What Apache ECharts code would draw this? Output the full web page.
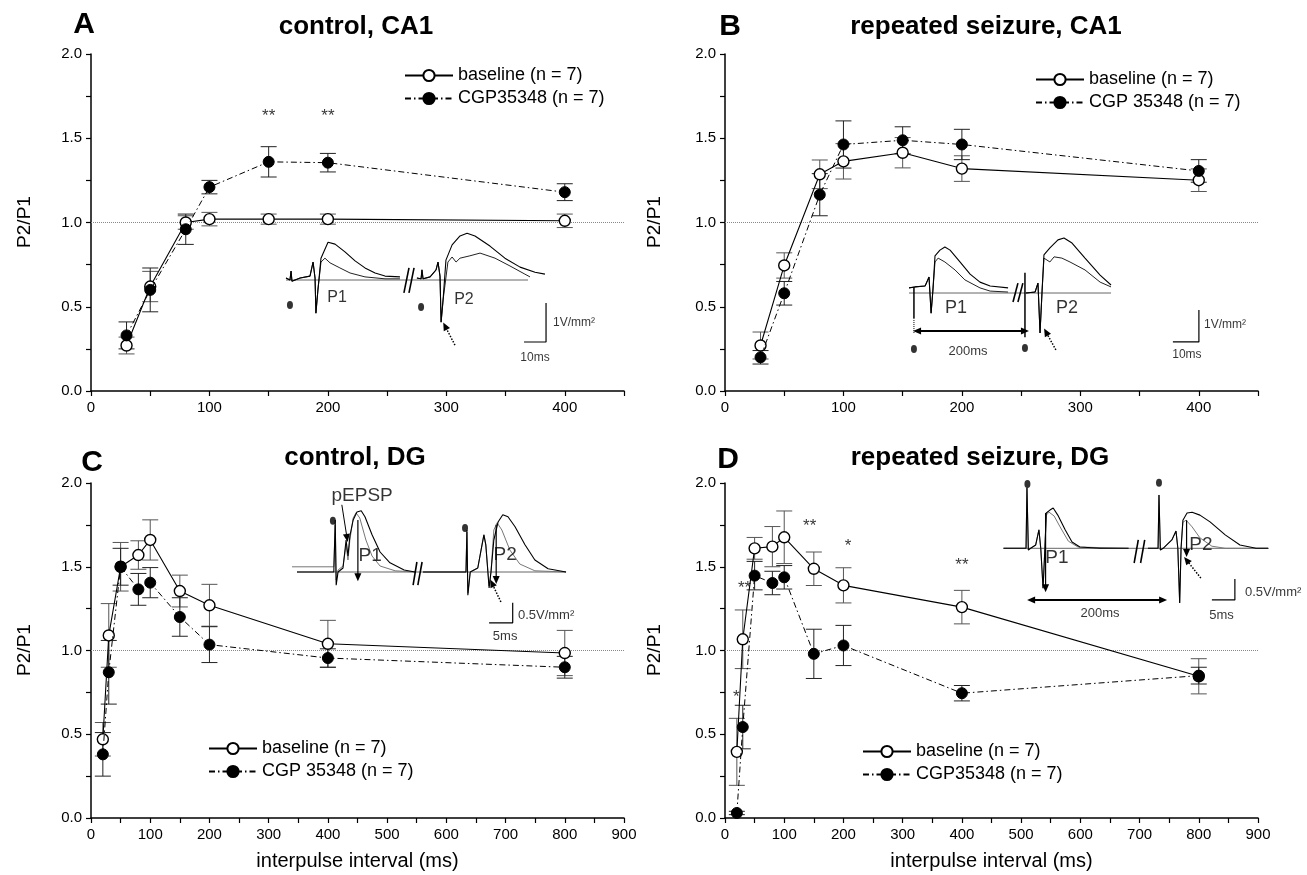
<!DOCTYPE html>
<html><head><meta charset="utf-8">
<script src="https://cdn.jsdelivr.net/npm/echarts@6/dist/echarts.min.js"></script>
<style>html,body{margin:0;padding:0;background:#fff}#c{width:1307px;height:875px}</style>
</head><body><div id="c"></div>
<script>
// ================= DATA =================
const xCA1 = [30, 50, 80, 100, 150, 200, 400];
const xDG = [20, 30, 50, 80, 100, 150, 200, 400, 800];

const baseA = [0.27, 0.62, 1.00, 1.02, 1.02, 1.02, 1.01];
const baseAErr = [0.05, 0.09, 0.04, 0.04, 0.03, 0.03, 0.04];
const cgpA = [0.33, 0.60, 0.96, 1.21, 1.36, 1.355, 1.18];
const cgpAErr = [0.08, 0.13, 0.09, 0.04, 0.09, 0.055, 0.05];

const baseB = [0.27, 0.745, 1.286, 1.363, 1.414, 1.32, 1.251];
const baseBErr = [0.08, 0.075, 0.085, 0.105, 0.09, 0.076, 0.067];
const cgpB = [0.20, 0.58, 1.165, 1.463, 1.488, 1.463, 1.306];
const cgpBErr = [0.04, 0.07, 0.125, 0.14, 0.08, 0.09, 0.067];

const baseC = [0.47, 1.09, 1.50, 1.57, 1.66, 1.355, 1.27, 1.04, 0.985];
const baseCErr = [0.10, 0.19, 0.145, 0.085, 0.12, 0.095, 0.125, 0.14, 0.135];
const cgpC = [0.38, 0.87, 1.50, 1.365, 1.405, 1.20, 1.035, 0.955, 0.90];
const cgpCErr = [0.13, 0.19, 0.11, 0.095, 0.09, 0.115, 0.107, 0.055, 0.065];

const baseD = [0.395, 1.067, 1.61, 1.62, 1.676, 1.488, 1.389, 1.259, 0.846];
const baseDErr = [0.20, 0.175, 0.065, 0.12, 0.157, 0.10, 0.105, 0.10, 0.105];
const cgpD = [0.03, 0.543, 1.447, 1.403, 1.437, 0.98, 1.03, 0.745, 0.85];
const cgpDErr = [0.01, 0.13, 0.085, 0.07, 0.07, 0.147, 0.12, 0.046, 0.05];

const starsA = [[150, 1.63, '**'], [200, 1.63, '**']];
const starsD = [[19, 0.72, '*'], [33, 1.37, '**'], [143, 1.74, '**'], [208, 1.62, '*'], [400, 1.51, '**']];

const refLevel = 1.0;
const refLineEnd = [462, 461, 930, 938];

const panelTitles = ['control, CA1', 'repeated seizure, CA1', 'control, DG', 'repeated seizure, DG'];
const panelLetters = ['A', 'B', 'C', 'D'];
const baseName = 'baseline (n = 7)';
const cgpNames = ['CGP35348 (n = 7)', 'CGP 35348 (n = 7)', 'CGP 35348 (n = 7)', 'CGP35348 (n = 7)'];

// ---- inset example traces: time (ms) vs amplitude (V/mm2) ----
const insA_p1Large = [[0,0.05],[1.8,0],[2.3,0.23],[2.7,-0.03],[6.4,0.05],[10.9,0.1],[12.3,0.46],[13.2,0.05],[13.6,-0.85],[14.5,-0.26],[15.9,0.56],[19.1,0.97],[22.3,0.92],[26.8,0.72],[31.4,0.49],[35.9,0.31],[40.5,0.18],[45,0.1],[51.8,0.08]];
const insA_p1Small = [[0,0.05],[1.8,0],[2.3,0.23],[2.7,-0.03],[6.4,0.05],[10.9,0.1],[12.3,0.46],[13.2,0.05],[13.6,-0.85],[14.5,-0.26],[15.9,0.46],[17.7,0.56],[20,0.44],[24.5,0.31],[29.1,0.18],[35.9,0.08],[45,0.03],[51.8,0.03]];
const insA_p2Large = [[59.5,0.05],[61.4,0.03],[61.8,0.26],[62.3,0.03],[65.5,0.08],[68.2,0.26],[69.1,0.46],[70,0.1],[70.5,-1.08],[71.4,-0.51],[72.7,0.51],[75.5,0.9],[79.1,1.13],[82.3,1.2],[85.9,1.13],[92.7,0.87],[99.5,0.56],[106.4,0.33],[113.2,0.2],[117.7,0.15]];
const insA_p2Small = [[59.5,0.05],[61.4,0.03],[61.8,0.26],[62.3,0.03],[65.5,0.08],[68.2,0.26],[69.1,0.46],[70,0.1],[70.5,-1.08],[71.4,-0.51],[73.6,0.46],[75.5,0.59],[77.3,0.46],[79.1,0.56],[83.6,0.62],[88.2,0.69],[95,0.56],[101.8,0.36],[108.6,0.15],[110.9,0.08]];

const insB_p1Large = [[0,0.16],[2.3,0.19],[6.2,0.22],[7.7,0.5],[8.5,-0.63],[9.2,0.09],[10,1.16],[11.9,1.34],[13.8,1.44],[15.8,1.34],[19.6,0.97],[23.5,0.59],[27.3,0.34],[31.2,0.22],[38.1,0.16]];
const insB_p1Small = [[0,0.16],[2.3,0.19],[6.2,0.22],[7.7,0.5],[8.5,-0.63],[9.2,0.09],[10,0.97],[11.2,1.09],[13.8,0.97],[17.7,0.72],[21.5,0.41],[27.3,0.16],[31.2,0.06],[38.1,0.03]];
const insB_p2Large = [[45,0],[48.5,0.03],[49.6,0.31],[50.4,-1.25],[51.2,0.09],[51.9,1.19],[54.2,1.41],[57.3,1.66],[59.6,1.72],[62.7,1.56],[67.7,1.09],[73.5,0.56],[77.7,0.25]];
const insB_p2Small = [[45,0],[48.5,0.03],[49.6,0.31],[50.4,-1.25],[51.2,0.09],[51.9,1.09],[54.2,0.97],[55.8,1.13],[58.8,1.09],[61.9,0.97],[67.7,0.72],[73.5,0.34],[77.7,0.19]];

const insC_p1Black = [[0,0],[7.8,0],[8.1,1.3],[8.3,-0.33],[8.7,0],[9.75,0.1],[10.4,0.8],[10.8,0.4],[11.2,0.9],[11.9,1.3],[12.7,1.5],[13.6,1.53],[14.4,1.38],[15.9,0.93],[17.6,0.5],[19.7,0.23],[22.7,0.05],[25,0]];
const insC_p1Gray = [[-1.06,0.13],[7.8,0.13],[8.1,1.18],[8.3,-0.2],[8.7,0.05],[9.75,0.15],[10.4,0.68],[10.8,0.3],[11.2,0.8],[11.9,1.35],[12.5,1.48],[13.3,1.35],[14.6,0.8],[15.9,0.4],[17.6,0.15],[20.8,0.03],[25,0]];
const insC_p2Black = [[26.7,0],[35.8,0],[36,1.05],[36.2,-0.58],[36.7,0],[38.3,0.1],[39.2,0.68],[39.6,0.93],[40,0.68],[40.7,-0.4],[41.1,0],[41.7,0.8],[42.6,1.25],[43.6,1.43],[44.7,1.38],[46.2,1.13],[48.3,0.68],[50.4,0.3],[53.2,0.08],[57,0]];
const insC_p2Gray = [[26.7,0],[35.8,0],[36,1.0],[36.2,-0.53],[36.7,0],[38.3,0.1],[39.2,0.68],[39.6,0.93],[40,0.68],[40.7,-0.35],[41.1,0],[41.7,1.05],[42.4,1.23],[43.4,1.05],[45.1,0.55],[47.2,0.2],[50.4,0.03],[57,0]];

const insD_p1Black = [[0,0],[4.9,0],[5.1,1.44],[5.4,-0.04],[5.9,0],[7,0.08],[7.7,0.44],[8.1,0],[8.6,-0.95],[9,0],[9.3,0.84],[10.1,0.91],[10.8,0.96],[11.8,0.79],[13.4,0.44],[14.9,0.15],[16.6,0.03],[21,0],[27.2,0]];
const insD_p1Gray = [[0,0],[4.9,0],[5.1,1.44],[5.4,-0.04],[5.9,0],[7,0.08],[7.7,0.44],[8.1,0],[8.6,-0.95],[9,0],[9.3,0.79],[9.9,0.86],[11,0.77],[12.3,0.51],[14.1,0.17],[16.2,0.03],[27.2,0]];
const insD_p2Black = [[31.4,0],[33.6,0],[33.8,1.27],[34.1,-0.04],[34.7,0],[36.6,0.2],[37.5,0.41],[37.9,0],[38.3,-1.3],[38.6,0],[39,0.67],[39.9,0.84],[41,0.86],[42.7,0.79],[44.9,0.63],[48.2,0.32],[51.4,0.08],[54.9,0],[57.5,0]];
const insD_p2Gray = [[31.4,0],[33.6,0],[33.8,1.27],[34.1,-0.04],[34.7,0],[36.6,0.2],[37.5,0.41],[37.9,0],[38.3,-1.3],[38.6,0],[39,0.62],[39.7,0.67],[41,0.51],[42.7,0.25],[45.3,0.05],[48.2,0],[57.5,0]];

// inset annotations (in the same ms / V/mm2 units)
const insA_marks = {
  baseline: [[0,0],[110,0]],
  breaks: [[[53.6,-0.33],[55.9,0.31]], [[55.9,-0.33],[58.2,0.31]]],
  dots: [[1.8,-0.64],[61.4,-0.69]],
  labels: [[23.2,-0.44,'P1'],[80.9,-0.51,'P2']],
  stim: [[76.8,-1.67],[72.3,-1.18]],
  scaleBar: [[108.2,-1.59],[118.2,-1.59],[118.2,-0.59]],
  scaleLabels: [[121.4,-1.1,'1V/mm²'],[113.2,-2.0,'10ms']]
};
const insB_marks = {
  baseline: [[0,0],[77.7,0]],
  breaks: [[[40,-0.28],[41.9,0.31]], [[41.9,-0.28],[43.8,0.31]]],
  artifacts: [[[1.9,0.19],[1.9,-0.78]], [[44.6,0.63],[44.6,-1.38]]],
  dottedArtifacts: [[[1.9,-0.78],[1.9,-1.25]]],
  dots: [[1.9,-1.75],[44.6,-1.72]],
  labels: [[18.1,-0.47,'P1'],[60.8,-0.47,'P2']],
  interval: [[3.1,-1.19],[44.6,-1.19]],
  intervalLabel: [22.7,-1.84,'200ms'],
  stim: [[56.5,-1.78],[52.7,-1.22]],
  scaleBar: [[101.5,-1.53],[111.5,-1.53],[111.5,-0.53]],
  scaleLabels: [[113.5,-1.0,'1V/mm²'],[106.9,-1.94,'10ms']]
};
const insC_marks = {
  baseline: [[0,0],[57,0]],
  breaks: [[[24.6,-0.33],[25.4,0.25]], [[25.6,-0.33],[26.5,0.25]]],
  ampArrows: [[[12.9,1.3],[12.9,-0.13]], [[42.2,1.18],[42.2,-0.2]]],
  dots: [[7.6,1.28],[35.6,1.1]],
  labels: [[15.5,0.4,'P1'],[44.1,0.43,'P2'],[13.8,1.9,'pEPSP']],
  pointer: [[9.5,1.68],[10.6,0.85]],
  stim: [[43.2,-0.75],[41.3,-0.28]],
  scaleBar: [[40.7,-1.27],[45.7,-1.27],[45.7,-0.77]],
  scaleLabels: [[46.8,-1.08,'0.5V/mm²'],[44.1,-1.6,'5ms']]
};
const insD_marks = {
  baseline: [[0,0],[57.7,0]],
  breaks: [[[28.4,-0.35],[29.3,0.2]], [[29.8,-0.35],[30.7,0.2]]],
  ampArrows: [[[9.15,0.84],[9.15,-0.95]], [[39.8,0.67],[39.8,-0.11]]],
  dots: [[5.2,1.53],[33.8,1.56]],
  labels: [[11.6,-0.23,'P1'],[42.9,0.08,'P2']],
  interval: [[6,-1.23],[34.7,-1.23]],
  intervalLabel: [21,-1.56,'200ms'],
  stim: [[42.9,-0.71],[39.8,-0.28]],
  scaleBar: [[45.3,-1.23],[50.3,-1.23],[50.3,-0.73]],
  scaleLabels: [[52.5,-1.06,'0.5V/mm²'],[47.4,-1.59,'5ms']]
};

// ================= LAYOUT =================
const F = "'Liberation Sans', Arial, Helvetica, sans-serif";
const mainGrids = [
  {left: 91, top: 54, width: 533, height: 337, xmax: 450},
  {left: 725, top: 54, width: 533, height: 337, xmax: 450},
  {left: 91, top: 483, width: 533, height: 335, xmax: 900},
  {left: 725, top: 483, width: 533, height: 335, xmax: 900}
];
// inset frames: origin pixel (x0,y0), px per ms, px per V/mm2, frame box
const insetFrames = [
  {x0: 286, y0: 280, kx: 2.2, ky: 39, box: [275, 215, 610, 375]},
  {x0: 909, y0: 293, kx: 2.6, ky: 32, box: [895, 225, 1250, 370]},
  {x0: 297, y0: 572, kx: 4.72, ky: 40, box: [285, 478, 600, 650]},
  {x0: 1003.5, y0: 548.3, kx: 4.6, ky: 42, box: [990, 470, 1307, 625]}
];

const panels = [
  {xs: xCA1, base: baseA, baseErr: baseAErr, cgp: cgpA, cgpErr: cgpAErr, stars: starsA},
  {xs: xCA1, base: baseB, baseErr: baseBErr, cgp: cgpB, cgpErr: cgpBErr, stars: []},
  {xs: xDG, base: baseC, baseErr: baseCErr, cgp: cgpC, cgpErr: cgpCErr, stars: []},
  {xs: xDG, base: baseD, baseErr: baseDErr, cgp: cgpD, cgpErr: cgpDErr, stars: starsD}
];
const legendPos = [
  {left: 399, top: 61}, {left: 1030, top: 65}, {left: 203, top: 734}, {left: 857, top: 737}
];

const grids = [], xAxes = [], yAxes = [], series = [], legends = [];

function errRender(color) {
  return function (params, api) {
    const x = api.value(0), lo = api.value(1), hi = api.value(2);
    const a = api.coord([x, lo]), b = api.coord([x, hi]);
    const w = 8, st = {stroke: color, lineWidth: 1};
    return {type: 'group', children: [
      {type: 'line', shape: {x1: a[0], y1: a[1], x2: b[0], y2: b[1]}, style: st},
      {type: 'line', shape: {x1: a[0] - w, y1: a[1], x2: a[0] + w, y2: a[1]}, style: st},
      {type: 'line', shape: {x1: b[0] - w, y1: b[1], x2: b[0] + w, y2: b[1]}, style: st}
    ]};
  };
}

mainGrids.forEach((g, i) => {
  grids.push({left: g.left, top: g.top, width: g.width, height: g.height, containLabel: false, outerBoundsMode: 'none'});
  xAxes.push({
    gridIndex: i, type: 'value', min: 0, max: g.xmax, interval: 50,
    name: i >= 2 ? 'interpulse interval (ms)' : '', nameLocation: 'middle', nameGap: 33,
    nameTextStyle: {fontSize: 20, fontFamily: F, color: '#000'},
    axisLine: {show: true, onZero: false, lineStyle: {color: '#000', width: 1.5}},
    axisTick: {show: true, inside: false, length: 5, lineStyle: {color: '#000', width: 1.2}},
    axisLabel: {show: true, interval: 0, margin: 9, fontSize: 15, fontFamily: F, color: '#000',
      formatter: v => (v % 100 === 0 ? String(v) : '')},
    splitLine: {show: false}
  });
  yAxes.push({
    gridIndex: i, type: 'value', min: 0, max: 2, interval: 0.25,
    axisLine: {show: true, onZero: false, lineStyle: {color: '#000', width: 1.5}},
    axisTick: {show: true, inside: false, length: 5, lineStyle: {color: '#000', width: 1.2}},
    axisLabel: {show: true, interval: 0, margin: 9, fontSize: 15, fontFamily: F, color: '#000',
      formatter: v => (Math.abs(v * 2 - Math.round(v * 2)) < 1e-6 ? v.toFixed(1) : '')},
    splitLine: {show: false}
  });
  const p = panels[i];
  // dotted reference line at P2/P1 = 1
  series.push({
    type: 'line', xAxisIndex: i, yAxisIndex: i, z: 1, silent: true, clip: false, symbol: 'none',
    data: [[0, refLevel], [refLineEnd[i], refLevel]],
    lineStyle: {color: '#888', type: 'dotted', width: 1}
  });
  series.push({
    type: 'custom', xAxisIndex: i, yAxisIndex: i, z: 2, silent: true,
    renderItem: errRender('#555'),
    data: p.xs.map((x, j) => [x, p.base[j] - p.baseErr[j], p.base[j] + p.baseErr[j]])
  });
  series.push({
    type: 'custom', xAxisIndex: i, yAxisIndex: i, z: 2, silent: true,
    renderItem: errRender('#222'),
    data: p.xs.map((x, j) => [x, p.cgp[j] - p.cgpErr[j], p.cgp[j] + p.cgpErr[j]])
  });
  series.push({
    name: baseName, type: 'line', xAxisIndex: i, yAxisIndex: i, z: 3,
    data: p.xs.map((x, j) => [x, p.base[j]]),
    symbol: 'circle', symbolSize: 11, showSymbol: true,
    itemStyle: {color: '#fff', borderColor: '#000', borderWidth: 1.4},
    lineStyle: {color: '#000', width: 1.1}
  });
  series.push({
    name: cgpNames[i], type: 'line', xAxisIndex: i, yAxisIndex: i, z: 4,
    data: p.xs.map((x, j) => [x, p.cgp[j]]),
    symbol: 'circle', symbolSize: 11, showSymbol: true,
    itemStyle: {color: '#000', borderColor: '#000', borderWidth: 1},
    lineStyle: {color: '#000', width: 1, type: [6, 3, 1.5, 3]}
  });
  if (p.stars.length) {
    series.push({
      type: 'scatter', xAxisIndex: i, yAxisIndex: i, z: 6, silent: true,
      symbolSize: 1, itemStyle: {color: 'transparent'},
      data: p.stars.map(s => ({value: [s[0], s[1]], name: s[2]})),
      label: {show: true, position: 'inside', formatter: '{b}', fontSize: 17, fontFamily: F, color: '#000'}
    });
  }
  legends.push({
    left: legendPos[i].left, top: legendPos[i].top, orient: 'vertical',
    data: [baseName, cgpNames[i]], itemWidth: 48, itemHeight: 14, itemGap: 4,
    selectedMode: false,
    textStyle: {fontSize: 18, fontFamily: F, color: '#000', lineHeight: 19}
  });
});

// ---- insets ----
const insetSets = [
  {big: [insA_p1Large, insA_p2Large], small: [insA_p1Small, insA_p2Small], smallColor: '#222', marks: insA_marks, lab: 16, small_lab: 12},
  {big: [insB_p1Large, insB_p2Large], small: [insB_p1Small, insB_p2Small], smallColor: '#222', marks: insB_marks, lab: 18, small_lab: 12},
  {big: [insC_p1Black, insC_p2Black], small: [insC_p1Gray, insC_p2Gray], smallColor: '#777', marks: insC_marks, lab: 19, small_lab: 13},
  {big: [insD_p1Black, insD_p2Black], small: [insD_p1Gray, insD_p2Gray], smallColor: '#777', marks: insD_marks, lab: 19, small_lab: 13}
];

insetFrames.forEach((fr, k) => {
  const gi = 4 + k;
  const [bl, bt, br, bb] = fr.box;
  grids.push({left: bl, top: bt, width: br - bl, height: bb - bt, containLabel: false, outerBoundsMode: 'none'});
  xAxes.push({gridIndex: gi, type: 'value', show: false, min: (bl - fr.x0) / fr.kx, max: (br - fr.x0) / fr.kx, splitLine: {show: false}});
  yAxes.push({gridIndex: gi, type: 'value', show: false, min: (fr.y0 - bb) / fr.ky, max: (fr.y0 - bt) / fr.ky, splitLine: {show: false}});
  const S = insetSets[k], M = S.marks;
  const rot = (a, b) => Math.atan2(-(b[0] - a[0]) * fr.kx, (b[1] - a[1]) * fr.ky) * 180 / Math.PI;
  const line = (data, color, width, type, z) => series.push({
    type: 'line', xAxisIndex: gi, yAxisIndex: gi, data, symbol: 'none', silent: true, z: z || 5,
    lineStyle: {color, width, type: type || 'solid'}, clip: false
  });
  const arrowLine = (pts, color, width, type, both) => {
    const a = pts[0], b = pts[pts.length - 1];
    const data = pts.map((p, idx) => {
      if (idx === pts.length - 1) return {value: p, symbol: 'triangle', symbolSize: [7, 8], symbolRotate: rot(a, b)};
      if (idx === 0 && both) return {value: p, symbol: 'triangle', symbolSize: [7, 8], symbolRotate: rot(b, a)};
      return {value: p, symbol: 'none'};
    });
    series.push({type: 'line', xAxisIndex: gi, yAxisIndex: gi, data, showSymbol: true, symbol: 'none', silent: true, z: 6,
      itemStyle: {color}, lineStyle: {color, width, type: type || 'solid'}, clip: false});
  };
  const texts = (items, size, align) => series.push({
    type: 'scatter', xAxisIndex: gi, yAxisIndex: gi, silent: true, z: 7, symbolSize: 1, clip: false,
    itemStyle: {color: 'transparent'},
    data: items.map(t => ({value: [t[0], t[1]], name: t[2]})),
    label: {show: true, position: 'inside', formatter: '{b}', fontSize: size, fontFamily: F, color: '#000', align: align || 'center', verticalAlign: 'middle'}
  });
  line(M.baseline, '#666', 1, 'solid', 4);
  S.small.forEach(d => line(d, S.smallColor, 1, 'solid', 5));
  S.big.forEach(d => line(d, '#000', 1.1, 'solid', 5));
  M.breaks.forEach(d => line(d, '#000', 1.6));
  if (M.artifacts) M.artifacts.forEach(d => line(d, '#000', 1.5));
  if (M.dottedArtifacts) M.dottedArtifacts.forEach(d => line(d, '#000', 1, 'dotted'));
  if (M.ampArrows) M.ampArrows.forEach(d => arrowLine(d, '#000', 1.2, 'solid', false));
  if (M.pointer) arrowLine(M.pointer, '#000', 1, 'solid', false);
  if (M.interval) arrowLine(M.interval, '#000', 2, 'solid', true);
  arrowLine(M.stim, '#000', 1.5, 'dotted', false);
  line(M.scaleBar, '#000', 1.2);
  series.push({type: 'scatter', xAxisIndex: gi, yAxisIndex: gi, silent: true, z: 6, clip: false,
    symbol: 'circle', symbolSize: [6, 8], itemStyle: {color: '#000'}, data: M.dots});
  texts(M.labels, S.lab, 'center');
  texts([M.scaleLabels[0]], S.small_lab, 'left');
  texts([M.scaleLabels[1]], S.small_lab, 'center');
  if (M.intervalLabel) texts([M.intervalLabel], 13, 'center');
});

// ---- titles & labels ----
const letterPos = [[84, 25], [730, 27], [92, 463], [728, 460]];
const titlePos = [[356, 27], [986, 27], [355, 458], [980, 458]];
const yNamePos = [[25, 222], [655, 222], [25, 650], [655, 650]];
const graphic = [];
for (let i = 0; i < 4; i++) {
  graphic.push({type: 'text', x: letterPos[i][0], y: letterPos[i][1], style: {text: panelLetters[i], font: 'bold 30px ' + F, fill: '#000', align: 'center', verticalAlign: 'middle'}});
  graphic.push({type: 'text', x: titlePos[i][0], y: titlePos[i][1], style: {text: panelTitles[i], font: 'bold 26px ' + F, fill: '#000', align: 'center', verticalAlign: 'middle'}});
  graphic.push({type: 'text', x: yNamePos[i][0], y: yNamePos[i][1], rotation: Math.PI / 2, style: {text: 'P2/P1', font: '19px ' + F, fill: '#000', align: 'center', verticalAlign: 'middle'}});
}

const chart = echarts.init(document.getElementById('c'), null, {renderer: 'canvas'});
chart.setOption({
  backgroundColor: '#fff', animation: false,
  grid: grids, xAxis: xAxes, yAxis: yAxes, series, legend: legends, graphic
});
</script></body></html>
